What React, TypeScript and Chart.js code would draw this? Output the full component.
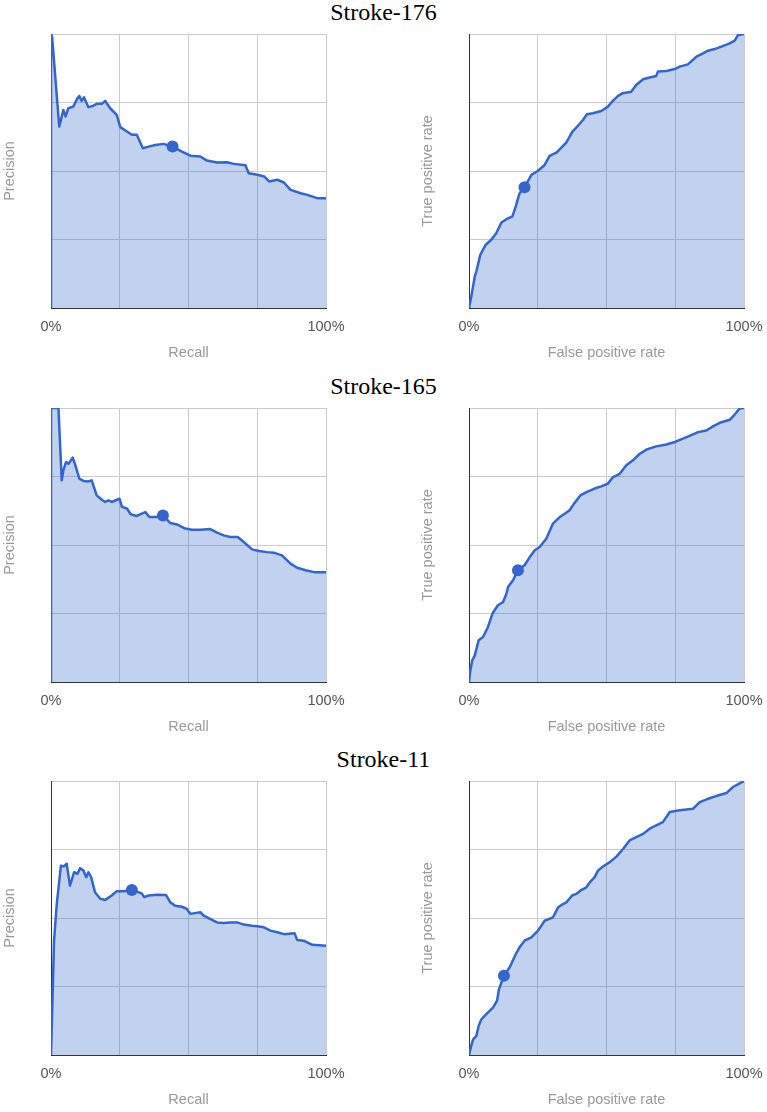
import React, { useEffect, useRef } from "react";
import { Chart, registerables } from "chart.js";

Chart.register(...registerables);

// ---------- data ----------
const rowTitles = ["Stroke-176", "Stroke-165", "Stroke-11"];
const axisTickValues = [0, 25, 50, 75, 100];
const xTickLabelFirst = "0%";
const xTickLabelLast = "100%";
const prXTitle = "Recall";
const prYTitle = "Precision";
const rocXTitle = "False positive rate";
const rocYTitle = "True positive rate";

// Stroke-176
const pr176Recall = [0, 0, 0.4, 3.0, 4.5, 5.3, 6.3, 8.1, 9.6, 10.3, 11.1, 12.0, 13.6, 15.4, 16.6, 18.5, 19.7, 21.5, 23.9, 25.2, 27.6, 29.4, 31.2, 33.4, 35.5, 37.9, 40.9, 44.2, 47.6, 50.7, 54.3, 56.7, 60.4, 64.0, 66.5, 70.7, 71.9, 75.0, 77.5, 79.3, 82.3, 84.7, 87.1, 90.8, 93.2, 96.8, 100];
const pr176Precision = [0, 100, 99, 66.2, 72.3, 69.9, 72.9, 73.5, 76.5, 77.4, 75.6, 76.9, 73.3, 73.8, 74.5, 74.5, 75.6, 72.9, 70.5, 66.0, 64.4, 63.2, 63.2, 58.3, 58.9, 59.5, 59.9, 58.9, 57.1, 55.6, 55.3, 53.8, 53.1, 53.2, 52.6, 52.1, 49.2, 48.6, 48.0, 46.2, 46.8, 45.8, 43.1, 41.9, 41.3, 40.1, 40.1];
const pr176Marker = [44.2, 58.9];
const roc176Fpr = [0, 0.85, 2.1, 2.7, 4.1, 6.1, 8.1, 9.9, 11.8, 13.6, 15.8, 17.0, 18.4, 20.2, 22.7, 25.1, 27.5, 29.3, 31.8, 34.2, 35.4, 37.6, 39.6, 41.5, 42.9, 45.1, 48.1, 50.5, 52.4, 54.2, 55.9, 59.0, 60.8, 63.3, 65.7, 68.1, 68.7, 71.8, 74.8, 76.6, 79.6, 82.7, 85.1, 86.9, 89.3, 91.8, 94.8, 96.6, 97.8, 100];
const roc176Tpr = [0, 4.3, 11.5, 13.4, 19.4, 23.1, 24.9, 27.3, 31.2, 32.4, 33.4, 37.1, 41.9, 44.1, 48.6, 50.1, 52.2, 55.5, 56.7, 59.2, 60.4, 64.4, 66.5, 68.7, 70.7, 71.1, 71.9, 73.5, 75.7, 77.4, 78.4, 78.9, 81.4, 83.5, 84.1, 84.7, 86.3, 86.5, 87.2, 88.1, 88.9, 91.7, 92.9, 93.9, 94.5, 95.4, 96.6, 97.6, 99.6, 100];
const roc176Marker = [20.2, 44.1];

// Stroke-165
const pr165Recall = [0, 0, 2.7, 3.9, 4.5, 5.5, 6.3, 7.2, 7.9, 8.7, 10.3, 11.8, 13.6, 14.8, 16.6, 18.5, 19.7, 20.9, 22.1, 24.9, 25.8, 27.6, 29.0, 31.2, 32.4, 34.3, 35.8, 38.5, 40.7, 43.4, 45.8, 48.8, 51.3, 54.3, 57.9, 60.4, 62.8, 65.2, 67.9, 70.1, 73.1, 75.6, 78.6, 81.0, 84.0, 87.1, 89.5, 92.6, 95.6, 100];
const pr165Precision = [0, 100, 100, 73.6, 77.3, 80.3, 79.6, 80.8, 81.9, 79.6, 74.2, 73.4, 73.2, 73.6, 68.1, 66.5, 65.7, 66.3, 65.7, 66.9, 63.9, 63.3, 61.2, 60.6, 61.2, 62.0, 60.2, 60.2, 60.8, 58.0, 57.5, 56.0, 55.6, 55.6, 55.8, 54.5, 53.5, 52.9, 52.9, 51.1, 48.4, 47.8, 47.4, 47.2, 46.2, 43.2, 41.7, 40.8, 40.1, 40.1];
const pr165Marker = [40.7, 60.8];
const roc165Fpr = [0, 0.5, 1.2, 2.1, 3.5, 5.1, 6.9, 8.5, 10.5, 12.4, 13.6, 14.2, 16.0, 17.8, 20.2, 22.1, 23.9, 25.7, 28.1, 30.5, 33.0, 34.8, 36.6, 38.2, 40.5, 42.7, 45.7, 48.1, 50.5, 52.4, 54.8, 57.2, 59.6, 62.1, 64.7, 68.1, 71.8, 74.8, 77.8, 80.2, 83.3, 86.3, 88.7, 91.2, 94.8, 96.6, 98.4, 100];
const roc165Tpr = [0, 4.3, 7.9, 9.7, 15.2, 16.4, 20.1, 24.9, 28.0, 29.2, 32.2, 34.7, 37.1, 40.8, 42.6, 45.6, 48.1, 49.3, 52.3, 57.8, 60.2, 61.4, 62.7, 65.1, 68.1, 69.3, 70.6, 71.4, 72.4, 74.8, 76.0, 79.1, 80.9, 83.3, 84.9, 86.0, 86.7, 87.6, 88.8, 89.8, 91.2, 91.8, 93.3, 94.6, 95.7, 97.6, 99.8, 100];
const roc165Marker = [17.8, 40.8];

// Stroke-11
const pr11Recall = [0, 0.6, 1.1, 2.1, 3.6, 4.7, 5.7, 6.9, 8.4, 9.6, 10.6, 11.8, 12.8, 13.6, 14.6, 16.0, 17.9, 19.7, 22.1, 23.9, 26.4, 29.4, 33.0, 33.9, 35.5, 38.5, 41.8, 43.4, 45.2, 47.6, 49.4, 50.7, 54.3, 55.5, 58.0, 60.4, 62.8, 65.2, 67.7, 70.1, 73.1, 75.0, 77.4, 79.8, 82.3, 84.7, 88.6, 89.5, 91.9, 95.0, 100];
const pr11Precision = [0, 22.2, 41.7, 55.1, 69.1, 68.8, 69.8, 61.8, 66.7, 66.1, 68.2, 67.3, 64.9, 66.7, 64.9, 59.4, 57.0, 56.6, 58.2, 59.8, 59.8, 60.2, 59.0, 57.6, 58.2, 58.5, 58.4, 55.7, 54.5, 54.1, 53.3, 51.5, 52.1, 50.9, 49.6, 48.4, 48.2, 48.4, 48.4, 47.6, 47.2, 47.0, 46.6, 45.4, 44.8, 44.1, 44.4, 42.0, 41.7, 40.2, 39.9];
const pr11Marker = [29.4, 60.2];
const roc11Fpr = [0, 0.8, 1.5, 2.7, 3.5, 4.5, 6.3, 8.7, 10.2, 10.9, 12.7, 14.8, 17.0, 18.4, 20.2, 22.7, 25.1, 27.5, 30.5, 32.4, 34.2, 35.4, 37.5, 39.0, 40.8, 42.7, 43.9, 45.7, 46.9, 48.7, 51.2, 53.6, 56.0, 58.4, 60.8, 63.3, 65.7, 68.1, 70.5, 73.0, 76.6, 81.5, 83.9, 86.9, 89.9, 93.6, 96.0, 100];
const roc11Tpr = [0, 3.3, 5.7, 7.0, 10.6, 13.0, 14.9, 17.3, 19.8, 24.0, 28.9, 32.0, 36.8, 39.3, 41.7, 42.9, 45.4, 49.0, 50.2, 53.9, 55.1, 55.7, 58.2, 58.8, 60.2, 61.2, 63.0, 64.9, 67.3, 68.8, 70.4, 72.4, 75.2, 78.3, 79.5, 80.7, 82.6, 83.8, 85.0, 88.7, 89.3, 89.9, 92.3, 93.5, 94.5, 95.6, 97.8, 100];
const roc11Marker = [12.7, 28.9];

// ---------- layout ----------
const PLOT_TOPS = [34, 408, 781];
const PR_LEFT = 0;
const ROC_LEFT = 418;
const Y_AXIS_W = 51;
const PLOT_W = 275;
const PLOT_H = 274;
const PAD_TOP = 10;
const PAD_RIGHT = 32;
const X_AXIS_H = 55;
const CANVAS_W = Y_AXIS_W + PLOT_W + PAD_RIGHT;
const CANVAS_H = PAD_TOP + PLOT_H + X_AXIS_H;

const SANS = "'Liberation Sans', Arial, sans-serif";
const LINE_COLOR = "#3366cc";
const FILL_COLOR = "rgba(51,102,204,0.3)";
const GRID_COLOR = "#cccccc";

type CurveProps = {
  left: number;
  top: number;
  xs: number[];
  ys: number[];
  marker: number[];
  xTitle: string;
  yTitle: string;
};

function gridColor(ctx: any) {
  if (ctx && ctx.tick && ctx.tick.value === 0) return "rgba(0,0,0,0)";
  return GRID_COLOR;
}

function CurveChart({ left, top, xs, ys, marker, xTitle, yTitle }: CurveProps) {
  const ref = useRef<HTMLCanvasElement | null>(null);
  useEffect(() => {
    if (!ref.current) return;
    const chart = new Chart(ref.current, {
      type: "line",
      data: {
        datasets: [
          {
            data: [{ x: marker[0], y: marker[1] }],
            showLine: false,
            pointRadius: 6,
            pointBackgroundColor: LINE_COLOR,
            pointBorderWidth: 0,
            fill: false,
            order: 0,
          } as any,
          {
            data: xs.map((x, i) => ({ x, y: ys[i] })),
            borderColor: LINE_COLOR,
            borderWidth: 2.5,
            borderJoinStyle: "round",
            backgroundColor: FILL_COLOR,
            fill: "origin",
            pointRadius: 0,
            tension: 0,
            order: 1,
          } as any,
        ],
      },
      options: {
        animation: false,
        responsive: false,
        events: [],
        layout: { padding: { top: PAD_TOP, right: PAD_RIGHT, bottom: 0, left: 0 } },
        plugins: { legend: { display: false }, tooltip: { enabled: false } },
        scales: {
          x: {
            type: "linear",
            min: 0,
            max: 100,
            afterBuildTicks: (s: any) => {
              s.ticks = axisTickValues.map((v) => ({ value: v }));
            },
            ticks: {
              autoSkip: false,
              maxRotation: 0,
              padding: 10,
              color: "#555555",
              font: { family: SANS, size: 14.5 },
              callback: (v: any) =>
                v === 0 ? xTickLabelFirst : v === 100 ? xTickLabelLast : "",
            },
            grid: { color: gridColor, drawTicks: false, lineWidth: 1 },
            border: { color: "#333333", width: 1 },
            title: {
              display: true,
              text: xTitle,
              color: "#999999",
              font: { family: SANS, size: 14.5 },
              padding: { top: 0, bottom: 1 },
            },
            afterFit: (s: any) => {
              s.height = X_AXIS_H;
            },
          } as any,
          y: {
            type: "linear",
            min: 0,
            max: 100,
            afterBuildTicks: (s: any) => {
              s.ticks = axisTickValues.map((v) => ({ value: v }));
            },
            ticks: { display: false },
            grid: { color: gridColor, drawTicks: false, lineWidth: 1 },
            border: { color: "#333333", width: 1 },
            title: {
              display: true,
              text: yTitle,
              color: "#999999",
              font: { family: SANS, size: 14.5 },
              padding: { top: 1.3, bottom: 0 },
            },
            afterFit: (s: any) => {
              s.width = Y_AXIS_W;
            },
          } as any,
        },
      },
    });
    return () => chart.destroy();
  }, []);
  return (
    <canvas
      ref={ref}
      width={CANVAS_W}
      height={CANVAS_H}
      style={{
        position: "absolute",
        left,
        top,
        width: CANVAS_W,
        height: CANVAS_H,
        display: "block",
      }}
    />
  );
}

const rows = [
  { pr: [pr176Recall, pr176Precision, pr176Marker], roc: [roc176Fpr, roc176Tpr, roc176Marker] },
  { pr: [pr165Recall, pr165Precision, pr165Marker], roc: [roc165Fpr, roc165Tpr, roc165Marker] },
  { pr: [pr11Recall, pr11Precision, pr11Marker], roc: [roc11Fpr, roc11Tpr, roc11Marker] },
];

export default function App() {
  return (
    <div
      style={{
        position: "absolute",
        left: 0,
        top: 0,
        width: 767,
        height: 1112,
        background: "#ffffff",
        overflow: "hidden",
      }}
    >
      {rows.map((row, i) => {
        const plotTop = PLOT_TOPS[i];
        return (
          <React.Fragment key={i}>
            <div
              style={{
                position: "absolute",
                left: 0,
                top: plotTop - 34,
                width: 767,
                textAlign: "center",
                fontFamily: "'Liberation Serif', 'Times New Roman', serif",
                fontSize: 24,
                lineHeight: "24px",
                color: "#000",
                whiteSpace: "nowrap",
              }}
            >
              {rowTitles[i]}
            </div>
            <CurveChart
              left={PR_LEFT}
              top={plotTop - PAD_TOP}
              xs={row.pr[0]}
              ys={row.pr[1]}
              marker={row.pr[2]}
              xTitle={prXTitle}
              yTitle={prYTitle}
            />
            <CurveChart
              left={ROC_LEFT}
              top={plotTop - PAD_TOP}
              xs={row.roc[0]}
              ys={row.roc[1]}
              marker={row.roc[2]}
              xTitle={rocXTitle}
              yTitle={rocYTitle}
            />
          </React.Fragment>
        );
      })}
    </div>
  );
}
